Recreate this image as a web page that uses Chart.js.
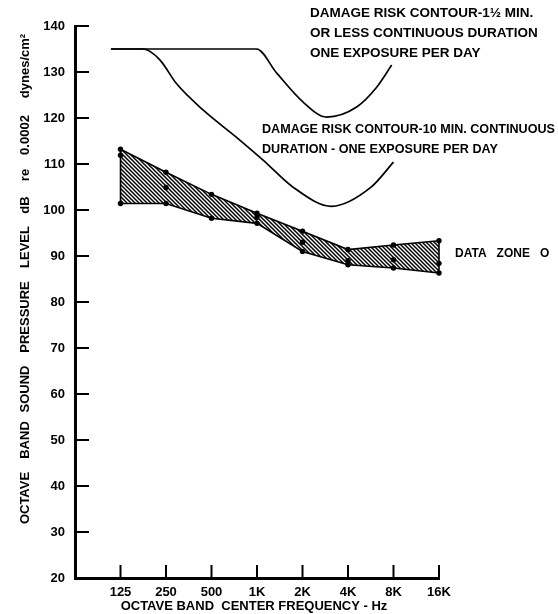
<!DOCTYPE html>
<html><head><meta charset="utf-8">
<script src="https://cdn.jsdelivr.net/npm/chart.js@4/dist/chart.umd.min.js"></script>
<style>html,body{margin:0;padding:0;background:#fff}#wrap{width:558px;height:614px;position:relative}</style>
</head><body><div id="wrap"><canvas id="c" width="558" height="614"></canvas></div>
<script>
// ---- data ----
const freqLabels = ['', '125', '250', '500', '1K', '2K', '4K', '8K', '16K'];
const zoneX      = [1, 2, 3, 4, 5, 6, 7, 8];
const zoneUpper  = [113.2, 108.2, 103.4, 99.3, 95.4, 91.4, 92.4, 93.3];
const zoneMiddle = [111.9, 104.9, null, 98.4, 93.0, 89.0, 89.2, 88.4];
const zoneLower  = [101.4, 101.4, 98.2, 97.1, 91.0, 88.1, 87.4, 86.3];
// damage risk contour, 1 1/2 min or less (x in octave-band index units)
const curveAX = [0.79, 3.99, 4.43, 5.02, 5.53, 6.19, 6.63, 6.96];
const curveAY = [135, 135, 129.8, 123.4, 120.2, 122.4, 126.7, 131.5];
// damage risk contour, 10 min
const curveBX = [0.79, 1.50, 1.87, 2.22, 2.82, 3.55, 4.14, 4.80, 5.64, 6.50, 7.00];
const curveBY = [135, 135, 132.6, 127.6, 121.7, 115.8, 110.8, 104.9, 100.8, 104.9, 110.4];
const yMin = 20, yMax = 140, yStep = 10;

const yTitleWords = ['OCTAVE', 'BAND', 'SOUND', 'PRESSURE', 'LEVEL', 'dB', 're', '0.0002', 'dynes/cm\u00B2'];
const noteA = ['DAMAGE RISK CONTOUR-1\u00BD MIN.', 'OR LESS CONTINUOUS DURATION', 'ONE EXPOSURE PER DAY'];
const noteB = ['DAMAGE RISK CONTOUR-10 MIN. CONTINUOUS', 'DURATION - ONE EXPOSURE PER DAY'];
const noteZone = 'DATA   ZONE   O';
const xTitle = 'OCTAVE BAND  CENTER FREQUENCY - Hz';

const pts = (xs, ys) => xs.map((x, i) => ({x, y: ys[i]})).filter(p => p.y !== null);

function makeHatch() {
  const c = document.createElement('canvas');
  c.width = 4; c.height = 4;
  const g = c.getContext('2d');
  g.strokeStyle = '#000'; g.lineWidth = 1.5;
  g.beginPath();
  g.moveTo(-1, -1); g.lineTo(5, 5);
  g.moveTo(-1, 3); g.lineTo(1, 5);
  g.moveTo(3, -1); g.lineTo(5, 1);
  g.stroke();
  return g.createPattern(c, 'repeat');
}

const FONT = '"Liberation Sans", Arial, sans-serif';

const decor = {
  id: 'decor',
  afterDraw(chart) {
    const {ctx, scales: {x, y}} = chart;
    ctx.save();
    ctx.strokeStyle = '#000';
    ctx.lineWidth = 2;
    // inward y ticks
    y.ticks.forEach(t => {
      if (t.value === yMin) return;
      const py = y.getPixelForValue(t.value);
      ctx.beginPath(); ctx.moveTo(x.left, py); ctx.lineTo(x.left + 14, py); ctx.stroke();
    });
    // upward x ticks
    x.ticks.forEach(t => {
      if (t.value === 0) return;
      const px = x.getPixelForValue(t.value);
      ctx.beginPath(); ctx.moveTo(px, y.bottom); ctx.lineTo(px, y.bottom - 13); ctx.stroke();
    });
    ctx.fillStyle = '#000';
    // y title, word by word
    const centers = [498, 440, 389, 317, 247, 205, 175, 135, 66];
    ctx.save();
    ctx.translate(25, 0);
    ctx.rotate(-Math.PI / 2);
    ctx.font = 'bold 13px ' + FONT;
    ctx.textAlign = 'center';
    ctx.textBaseline = 'middle';
    yTitleWords.forEach((w, i) => ctx.fillText(w, -centers[i], 0));
    ctx.restore();
    // x title
    ctx.font = 'bold 13px ' + FONT;
    ctx.textAlign = 'center';
    ctx.textBaseline = 'middle';
    ctx.fillText(xTitle, 254, 606);
    // notes
    ctx.textAlign = 'left';
    ctx.font = 'bold 13.5px ' + FONT;
    noteA.forEach((s, i) => ctx.fillText(s, 310, 13 + i * 20));
    ctx.font = 'bold 12.6px ' + FONT;
    noteB.forEach((s, i) => ctx.fillText(s, 262, 130 + i * 20));
    ctx.font = 'bold 12px ' + FONT;
    ctx.fillText(noteZone, 455, 254);
    ctx.restore();
  }
};

const lineStyle = {borderColor: '#000', borderWidth: 1.7, pointRadius: 0, fill: false,
                   cubicInterpolationMode: 'monotone', clip: false};
const dotStyle = {borderColor: '#000', backgroundColor: '#000', pointRadius: 2.7,
                  pointBackgroundColor: '#000', pointBorderWidth: 0, borderWidth: 1.6,
                  tension: 0, clip: false};

new Chart(document.getElementById('c'), {
  type: 'line',
  data: {
    datasets: [
      {label: 'DRC 1.5 min', data: pts(curveAX, curveAY), ...lineStyle},
      {label: 'DRC 10 min', data: pts(curveBX, curveBY), ...lineStyle},
      {label: 'Zone upper', data: pts(zoneX, zoneUpper), ...dotStyle, backgroundColor: makeHatch(), fill: '+1'},
      {label: 'Zone lower', data: pts(zoneX, zoneLower), ...dotStyle, fill: false},
      {label: 'Zone middle', data: pts(zoneX, zoneMiddle), ...dotStyle, showLine: false, fill: false},
      {label: 'Zone left edge', data: [{x: zoneX[0], y: zoneUpper[0]}, {x: zoneX[0], y: zoneLower[0]}],
       borderColor: '#000', borderWidth: 1.6, pointRadius: 0, fill: false, clip: false},
      {label: 'Zone right edge', data: [{x: zoneX[7], y: zoneUpper[7]}, {x: zoneX[7], y: zoneLower[7]}],
       borderColor: '#000', borderWidth: 1.6, pointRadius: 0, fill: false, clip: false}
    ]
  },
  options: {
    responsive: false,
    animation: false,
    devicePixelRatio: 1,
    layout: {padding: {top: 26, right: 119, left: 0, bottom: 0}},
    plugins: {legend: {display: false}, tooltip: {enabled: false}},
    scales: {
      x: {
        type: 'linear', min: 0, max: 8,
        afterFit(s) { s.height = 36; },
        grid: {drawOnChartArea: false, drawTicks: false},
        border: {display: true, color: '#000', width: 3},
        ticks: {stepSize: 1, autoSkip: false, maxRotation: 0, padding: 7, color: '#000',
                font: {family: FONT, weight: 'bold', size: 13},
                callback: v => freqLabels[v] ?? ''}
      },
      y: {
        type: 'linear', min: yMin, max: yMax,
        afterFit(s) { s.width = 75; },
        grid: {drawOnChartArea: false, drawTicks: false},
        border: {display: true, color: '#000', width: 3},
        ticks: {stepSize: yStep, padding: 10, color: '#000',
                font: {family: FONT, weight: 'bold', size: 13}}
      }
    }
  },
  plugins: [decor]
});
</script>
</body></html>
